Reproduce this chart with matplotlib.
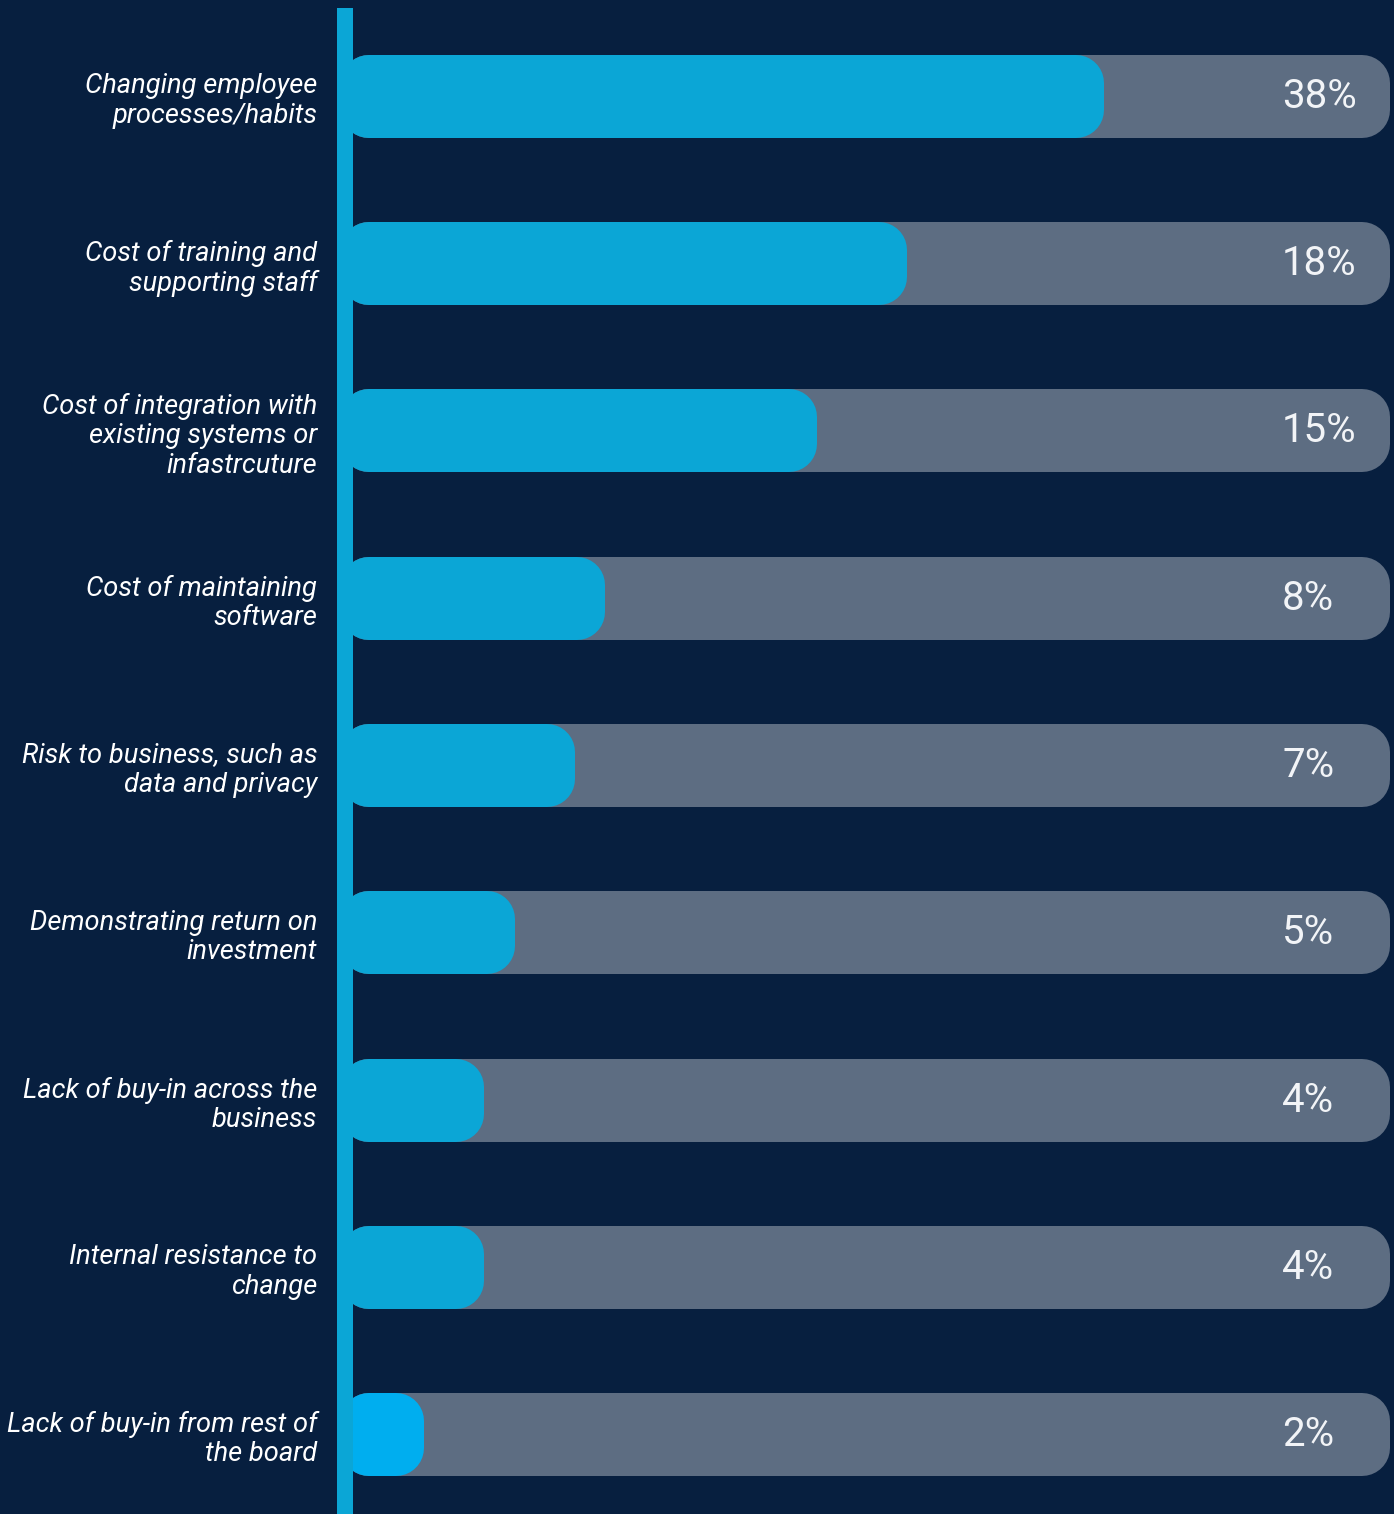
import numpy as np
import matplotlib.pyplot as plt
from matplotlib.transforms import blended_transform_factory

plt.rcParams['font.family'] = ['Roboto', 'DejaVu Sans']

labels = [
    "Changing employee\nprocesses/habits",
    "Cost of training and\nsupporting staff",
    "Cost of integration with\nexisting systems or\ninfastrcuture",
    "Cost of maintaining\nsoftware",
    "Risk to business, such as\ndata and privacy",
    "Demonstrating return on\ninvestment",
    "Lack of buy-in across the\nbusiness",
    "Internal resistance to\nchange",
    "Lack of buy-in from rest of\nthe board",
]
values = [38, 18, 15, 8, 7, 5, 4, 4, 2]
value_labels = [f"{v}%" for v in values]
track_max = 100

BG = "#071f3f"
BLUE = "#0ba6d6"
HIGHLIGHT = "#00aeef"
TRACK = "#5d6d82"
bar_colors = [BLUE] * 8 + [HIGHLIGHT]

# piecewise x scale: linear up to 18%, squeezed above so the long bar fits
knots_in = [-50, 18, 38, 100, 200]
knots_out = [-50, 18, 24.5, 34, 44]


def fwd(x):
    return np.interp(x, knots_in, knots_out)


def inv(x):
    return np.interp(x, knots_out, knots_in)


W, H, DPI = 1394, 1514, 100
PX0, PX_PER = 335.6, 30.2      # pixel of scaled 0 and pixels per scaled unit
AX_LEFT, AX_TOP = 345, 8
ROW_PX = 167.25                # row pitch in pixels
FIRST_ROW = 96.5
BAR_PX = 83                    # full bar thickness
R = 28                         # corner radius in pixels

fig = plt.figure(figsize=(W / DPI, H / DPI), dpi=DPI, facecolor=BG)
ax = fig.add_axes([AX_LEFT / W, 0, (W - AX_LEFT) / W, (H - AX_TOP) / H])
ax.set_facecolor(BG)
ax.set_xscale('function', functions=(fwd, inv))
ax.set_xlim(inv((AX_LEFT - PX0) / PX_PER), inv((W - PX0) / PX_PER))

n = len(values)
y = np.arange(n)
top = -(FIRST_ROW - AX_TOP) / ROW_PX
bottom = (n - 1) + (H - (FIRST_ROW + (n - 1) * ROW_PX)) / ROW_PX
ax.set_ylim(bottom, top)

# rounded corners come from a thick round-joined edge around a slimmer bar
lw = 2 * R * 72 / DPI
inner_h = (BAR_PX - 2 * R) / ROW_PX
base = inv((341 + R - PX0) / PX_PER)

ax.barh(y, [track_max - base] * n, left=base, height=inner_h,
        color=TRACK, edgecolor=TRACK, linewidth=lw, joinstyle='round',
        zorder=1, clip_on=False)
ax.barh(y, [v - base for v in values], left=base, height=inner_h,
        color=bar_colors, edgecolor=bar_colors, linewidth=lw,
        joinstyle='round', zorder=1.5, clip_on=False)

tr = blended_transform_factory(ax.transAxes, ax.transData)
for yi, txt in zip(y, value_labels):
    ax.text((1282 - AX_LEFT) / (W - AX_LEFT), yi, txt, transform=tr,
            ha='left', va='center', fontsize=29, color='#f2f4f7', zorder=3)

ax.set_yticks(y)
ax.set_yticklabels(labels, fontsize=19.6, style='italic', color='white')
for t in ax.get_yticklabels():
    t.set_linespacing(1.17)
ax.tick_params(axis='y', length=0, pad=20)
ax.set_xticks([])
ax.xaxis.set_minor_locator(plt.NullLocator())

for side in ('top', 'right', 'bottom'):
    ax.spines[side].set_visible(False)
ax.spines['left'].set_color(BLUE)
ax.spines['left'].set_linewidth(16 * 72 / DPI)
ax.spines['left'].set_capstyle('butt')
ax.spines['left'].set_zorder(4)

fig.savefig('out.png', dpi=DPI, facecolor=BG)
